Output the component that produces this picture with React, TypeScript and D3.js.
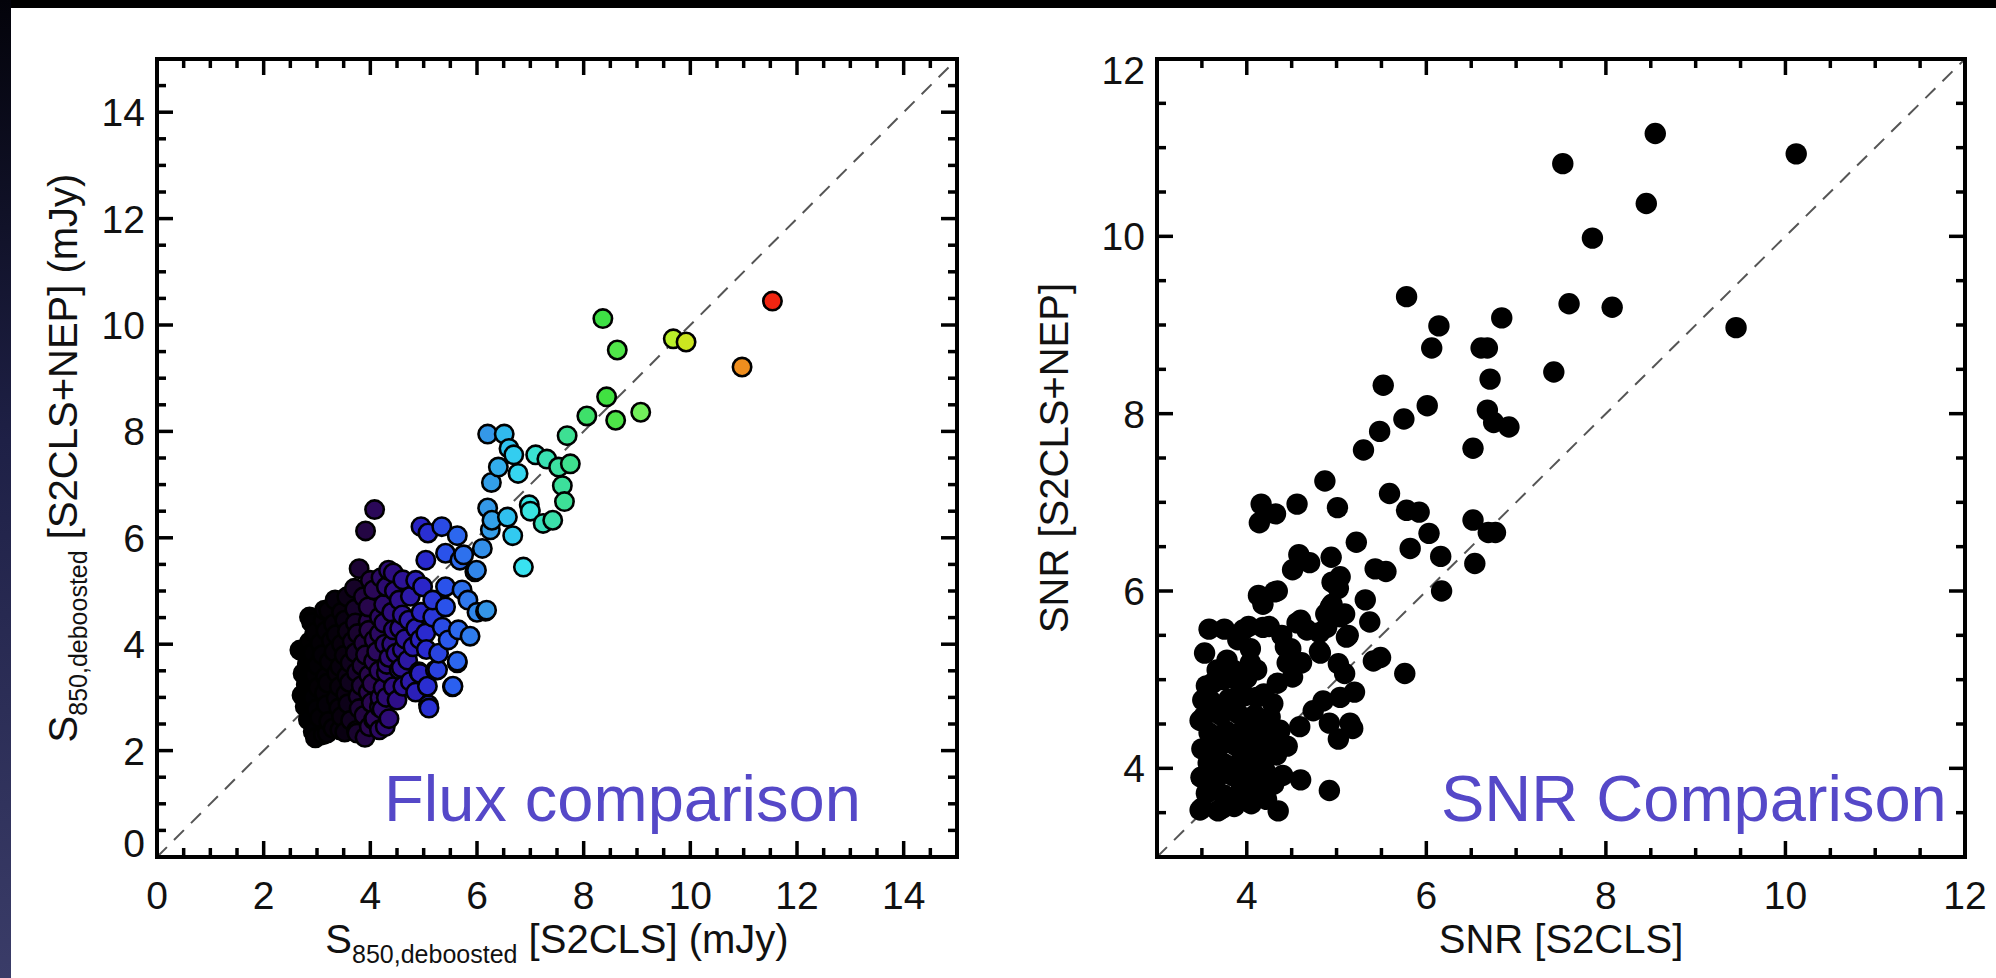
import React from 'react';
import * as d3 from 'd3';

const W = 1996;
const H = 978;

// ---------- axis tick labels ----------
const fluxMajorTicks = [0, 2, 4, 6, 8, 10, 12, 14];
const snrMajorTicks = [4, 6, 8, 10, 12];
const fluxDomain: [number, number] = [0, 15];
const snrDomain: [number, number] = [3, 12];

// ---------- left panel: deboosted flux [S2CLS] vs [S2CLS+NEP] (mJy) ----------
const fluxPoints: [number, number][] = [
  // dense faint-source cluster
  [2.93, 2.36], [3.12, 2.3], [3.3, 2.42], [3.52, 2.35], [3.74, 2.38], [3.98, 2.45],
  [2.84, 2.58], [3.05, 2.62], [3.22, 2.55], [3.46, 2.64], [3.63, 2.57], [3.88, 2.66], [4.08, 2.6],
  [2.78, 2.83], [2.99, 2.78], [3.18, 2.86], [3.41, 2.8], [3.58, 2.88], [3.79, 2.79], [4.02, 2.9], [4.22, 2.78],
  [2.72, 3.04], [2.93, 3.0], [3.14, 3.08], [3.36, 2.98], [3.54, 3.06], [3.77, 3.02], [3.96, 3.1], [4.18, 3.0],
  [2.8, 3.24], [3.02, 3.19], [3.2, 3.27], [3.42, 3.2], [3.61, 3.28], [3.83, 3.22], [4.03, 3.26], [4.24, 3.18],
  [2.74, 3.45], [2.96, 3.42], [3.16, 3.38], [3.37, 3.46], [3.56, 3.4], [3.74, 3.47], [3.97, 3.42], [4.16, 3.5],
  [2.82, 3.63], [3.01, 3.6], [3.23, 3.67], [3.43, 3.58], [3.62, 3.65], [3.84, 3.6], [4.06, 3.68], [4.31, 3.62],
  [2.92, 3.83], [3.1, 3.8], [3.32, 3.86], [3.51, 3.79], [3.72, 3.84], [3.91, 3.8], [4.12, 3.86],
  [2.86, 4.04], [3.06, 4.02], [3.27, 4.07], [3.46, 4.0], [3.66, 4.05], [3.87, 4.02], [4.07, 4.08], [4.27, 4.0],
  [2.96, 4.22], [3.17, 4.25], [3.36, 4.18], [3.57, 4.24], [3.76, 4.2], [3.97, 4.26], [4.17, 4.2],
  [2.9, 4.41], [3.12, 4.44], [3.31, 4.38], [3.52, 4.45], [3.72, 4.4], [3.96, 4.43],
  [3.22, 4.63], [3.46, 4.6], [3.71, 4.66], [3.96, 4.7],
  [2.68, 3.89], [2.86, 4.51], [3.14, 4.64], [3.34, 4.83], [3.56, 4.89], [3.87, 4.89], [4.06, 5.02],
  [2.97, 2.24], [3.19, 2.33], [3.43, 2.39], [3.75, 2.33], [4.06, 2.58], [4.17, 2.39], [4.17, 2.82],
  [3.9, 2.25], [4.28, 2.45], [4.35, 2.6], [4.3, 3.0], [4.5, 2.95], [3.7, 5.05], [4.0, 5.2], [4.2, 5.25],
  // intermediate sources
  [4.25, 4.75], [4.4, 4.6], [4.6, 4.55], [4.75, 4.9], [4.85, 5.2], [4.65, 4.1], [4.55, 4.3], [4.4, 4.0],
  [4.7, 3.7], [4.35, 3.75], [4.6, 3.9], [4.85, 4.3], [4.75, 3.3], [4.25, 4.4], [4.45, 5.0], [4.95, 4.6],
  [5.05, 3.9], [4.85, 3.1],
  [4.3, 3.46], [4.43, 3.2], [4.48, 3.83], [4.43, 4.27], [4.17, 4.51], [4.54, 3.52], [4.61, 3.21], [4.58, 3.56],
  [4.3, 5.08], [4.61, 5.21], [4.43, 5.34], [4.54, 4.83], [4.72, 4.45], [4.8, 3.95], [4.91, 3.48], [4.93, 3.45],
  [4.93, 4.09], [5.04, 4.21], [5.17, 4.51], [5.35, 4.32], [5.46, 4.08], [5.28, 3.83], [5.26, 3.52], [5.22, 3.51],
  [5.07, 3.21], [5.09, 2.86], [5.1, 2.8], [5.54, 3.2], [5.55, 3.21], [5.63, 3.65], [5.63, 3.68], [5.65, 4.27],
  [5.87, 4.15], [6.0, 4.6], [6.16, 4.62], [6.18, 4.64], [5.41, 4.7], [5.17, 4.83], [5.83, 4.83], [5.72, 5.02],
  [5.41, 5.08], [4.98, 5.08], [5.04, 5.58], [5.41, 5.71], [5.68, 5.58], [5.75, 5.68], [5.96, 5.36], [5.99, 5.39],
  [6.1, 5.8], [5.63, 6.04], [5.34, 6.21], [4.95, 6.21], [5.08, 6.09], [4.34, 5.39],
  [3.79, 5.42], [3.91, 6.13], [4.08, 6.53],
  // brighter sources
  [6.2, 7.95], [6.51, 7.95], [6.6, 7.68], [6.69, 7.56], [6.77, 7.21], [6.4, 7.33], [6.27, 7.04],
  [6.2, 6.56], [6.25, 6.15], [6.28, 6.33], [6.57, 6.39], [6.67, 6.04], [6.87, 5.45],
  [6.98, 6.62], [7.0, 6.5], [7.24, 6.27], [7.42, 6.33], [7.1, 7.56], [7.31, 7.48], [7.53, 7.33],
  [7.6, 6.98], [7.64, 6.68], [7.75, 7.39], [7.69, 7.92],
  [8.06, 8.29], [8.6, 8.21], [8.43, 8.65], [9.07, 8.36], [8.63, 9.53], [8.36, 10.12],
  [9.68, 9.74], [9.92, 9.68], [10.97, 9.21], [11.54, 10.45],
];

// colour bar stops (rainbow table) keyed on S2CLS flux
const fluxColorStops = [2.8, 3.5, 4.0, 4.5, 5.0, 5.5, 6.2, 6.6, 6.9, 7.3, 7.8, 8.4, 9.1, 9.8, 11.0, 11.6];
const fluxColors = [
  '#000000', '#08000e', '#2a0750', '#2e0e88', '#2a26cc', '#2a5cf0', '#3498e8', '#30c2f0',
  '#3ae6f0', '#3ae0b4', '#3ee08a', '#3ee040', '#74f05c', '#c8f020', '#f08c1e', '#f01a10',
];

// ---------- right panel: SNR [S2CLS] vs SNR [S2CLS+NEP] ----------
const snrPoints: [number, number][] = [
  // dense low-SNR cluster
  [3.5, 3.55], [3.68, 3.52], [3.86, 3.57], [4.05, 3.6], [4.22, 3.65],
  [3.55, 3.72], [3.74, 3.7], [3.93, 3.75], [4.12, 3.78], [4.3, 3.82],
  [3.49, 3.9], [3.66, 3.88], [3.84, 3.92], [4.02, 3.95], [4.2, 3.98], [4.4, 3.92],
  [3.57, 4.06], [3.75, 4.05], [3.94, 4.1], [4.13, 4.12], [4.33, 4.15],
  [3.5, 4.22], [3.69, 4.24], [3.87, 4.26], [4.05, 4.28], [4.24, 4.3], [4.45, 4.25],
  [3.58, 4.4], [3.77, 4.42], [3.96, 4.44], [4.15, 4.46],
  [3.52, 4.58], [3.71, 4.6], [3.9, 4.62], [4.09, 4.6], [4.26, 4.58],
  [3.6, 4.76], [3.8, 4.78], [3.98, 4.82], [4.19, 4.84],
  [3.55, 4.93], [3.74, 5.0], [4.0, 5.02], [3.86, 5.1],
  [3.48, 3.53], [3.73, 3.55], [3.48, 4.54], [3.51, 4.77], [3.62, 4.96], [3.92, 4.96],
  [3.67, 5.11], [3.78, 5.22], [4.04, 5.19], [4.11, 5.11], [4.11, 4.8], [4.29, 4.73], [4.34, 4.96],
  [4.35, 3.52], [4.6, 3.87], [4.92, 3.75], [4.37, 4.43], [4.59, 4.47],
  // intermediate
  [4.74, 4.65], [4.85, 4.76], [5.2, 4.86], [5.04, 4.8], [5.02, 4.33], [4.92, 4.51], [5.15, 4.51], [5.18, 4.45],
  [4.51, 5.03], [4.45, 5.19], [4.61, 5.19], [4.82, 5.3], [4.81, 5.32], [5.02, 5.18], [5.09, 5.07],
  [5.41, 5.21], [5.49, 5.25], [5.76, 5.07],
  [3.53, 5.3], [3.58, 5.57], [3.75, 5.57], [3.9, 5.45], [3.96, 5.56], [4.02, 5.6], [4.04, 5.35],
  [4.18, 5.59], [4.25, 5.6], [4.39, 5.5], [4.43, 5.37], [4.49, 5.35], [4.56, 5.64], [4.6, 5.67],
  [4.67, 5.56], [4.81, 5.53], [4.89, 5.59], [5.04, 5.71], [5.11, 5.48], [5.13, 5.5],
  [4.88, 5.74], [5.09, 5.74], [4.93, 5.82], [4.95, 5.85], [5.37, 5.65], [5.32, 5.9],
  [4.13, 5.95], [4.18, 5.85], [4.31, 5.99], [4.34, 6.0], [4.95, 6.1], [5.02, 6.03], [5.04, 6.16],
  [4.51, 6.24], [4.58, 6.41], [4.7, 6.32], [4.94, 6.38], [5.22, 6.55], [5.43, 6.25], [5.55, 6.22],
  [5.82, 6.48], [6.03, 6.65], [6.16, 6.39], [6.17, 6.0], [6.54, 6.31],
  [4.14, 6.77], [4.16, 6.98], [4.32, 6.87], [4.56, 6.98], [5.01, 6.94], [4.87, 7.24],
  [5.59, 7.1], [5.78, 6.91], [5.92, 6.89], [6.52, 6.8], [6.69, 6.66], [6.77, 6.66],
  // bright
  [5.3, 7.59], [5.48, 7.8], [5.75, 7.94], [6.01, 8.09], [5.52, 8.32], [6.52, 7.61],
  [6.68, 8.04], [6.75, 7.9], [6.92, 7.85], [6.71, 8.39], [6.61, 8.74], [6.68, 8.74],
  [6.06, 8.74], [6.14, 8.99], [5.78, 9.32], [6.84, 9.08], [7.42, 8.47],
  [7.59, 9.24], [8.07, 9.2], [9.45, 8.97], [7.85, 9.98], [8.45, 10.37],
  [7.52, 10.82], [8.55, 11.16], [10.12, 10.93],
];

// ---------- panel layout ----------
const leftPanel = { x0: 157, x1: 957, y0: 857, y1: 59 };
const rightPanel = { x0: 1157, x1: 1965, y0: 857, y1: 59 };

const FONT = "'Liberation Sans', Arial, Helvetica, sans-serif";

type PanelProps = {
  box: { x0: number; x1: number; y0: number; y1: number };
  domain: [number, number];
  majors: number[];
};

function Frame({ box, domain, majors }: PanelProps) {
  const x = d3.scaleLinear().domain(domain).range([box.x0, box.x1]);
  const y = d3.scaleLinear().domain(domain).range([box.y0, box.y1]);
  const minors = d3.range(domain[0] + 0.5, domain[1], 0.5);
  const isMajor = (v: number) => majors.includes(v);
  const MAJ = 16;
  const MIN = 9;
  const ticks: JSX.Element[] = [];
  minors.forEach((v, i) => {
    const L = isMajor(v) ? MAJ : MIN;
    const xv = x(v);
    const yv = y(v);
    ticks.push(<line key={'b' + i} x1={xv} x2={xv} y1={box.y0} y2={box.y0 - L} />);
    ticks.push(<line key={'t' + i} x1={xv} x2={xv} y1={box.y1} y2={box.y1 + L} />);
    ticks.push(<line key={'l' + i} x1={box.x0} x2={box.x0 + L} y1={yv} y2={yv} />);
    ticks.push(<line key={'r' + i} x1={box.x1} x2={box.x1 - L} y1={yv} y2={yv} />);
  });
  return (
    <g>
      <line
        x1={x(domain[0])}
        y1={y(domain[0])}
        x2={x(domain[1])}
        y2={y(domain[1])}
        stroke="#555"
        strokeWidth={2}
        strokeDasharray="14 10"
      />
      <g stroke="#000" strokeWidth={3.5}>{ticks}</g>
      <rect
        x={box.x0}
        y={box.y1}
        width={box.x1 - box.x0}
        height={box.y0 - box.y1}
        fill="none"
        stroke="#000"
        strokeWidth={4}
      />
      <g fontFamily={FONT} fontSize={39} fill="#111">
        {majors.map((v) => (
          <text key={'xl' + v} x={x(v)} y={909} textAnchor="middle">
            {v}
          </text>
        ))}
        {majors.map((v) => {
          let cy = y(v);
          if (v === domain[0]) cy -= 14;
          if (v === domain[1]) cy += 11;
          return (
            <text key={'yl' + v} x={box.x0 - 12} y={cy} dy="0.36em" textAnchor="end">
              {v}
            </text>
          );
        })}
      </g>
    </g>
  );
}

export default function App() {
  const lx = d3.scaleLinear().domain(fluxDomain).range([leftPanel.x0, leftPanel.x1]);
  const ly = d3.scaleLinear().domain(fluxDomain).range([leftPanel.y0, leftPanel.y1]);
  const rx = d3.scaleLinear().domain(snrDomain).range([rightPanel.x0, rightPanel.x1]);
  const ry = d3.scaleLinear().domain(snrDomain).range([rightPanel.y0, rightPanel.y1]);
  const color = d3
    .scaleLinear<string>()
    .domain(fluxColorStops)
    .range(fluxColors)
    .interpolate(d3.interpolateRgb)
    .clamp(true);

  const fluxSorted = [...fluxPoints].sort((a, b) => a[0] - b[0]);

  const lcx = (leftPanel.x0 + leftPanel.x1) / 2;
  const lcy = (leftPanel.y0 + leftPanel.y1) / 2;
  const rcx = (rightPanel.x0 + rightPanel.x1) / 2;

  return (
    <svg
      width={W}
      height={H}
      viewBox={`0 0 ${W} ${H}`}
      style={{ position: 'absolute', left: 0, top: 0, display: 'block' }}
    >
      <defs>
        <linearGradient id="strip" x1="0" y1="0" x2="0" y2="1">
          <stop offset="0" stopColor="#03030a" />
          <stop offset="0.45" stopColor="#1e2046" />
          <stop offset="1" stopColor="#3a3c68" />
        </linearGradient>
      </defs>
      <rect x={0} y={0} width={W} height={H} fill="#000" />
      <rect x={0} y={0} width={11} height={H} fill="url(#strip)" />
      <rect x={11} y={8} width={W - 11} height={H - 8} fill="#fff" />

      <Frame box={leftPanel} domain={fluxDomain} majors={fluxMajorTicks} />
      <Frame box={rightPanel} domain={snrDomain} majors={snrMajorTicks} />

      {/* left scatter, coloured by S2CLS flux */}
      <g stroke="#000" strokeWidth={2.6}>
        {fluxSorted.map((p, i) => (
          <circle key={'f' + i} cx={lx(p[0])} cy={ly(p[1])} r={9.2} fill={color(p[0])} />
        ))}
      </g>

      {/* right scatter */}
      <g fill="#000">
        {snrPoints.map((p, i) => (
          <circle key={'s' + i} cx={rx(p[0])} cy={ry(p[1])} r={10.7} />
        ))}
      </g>

      {/* axis titles */}
      <g fontFamily={FONT} fontSize={40} fill="#111">
        <text x={lcx} y={953} textAnchor="middle">
          <tspan>S</tspan>
          <tspan fontSize={25} dy={10}>850,deboosted</tspan>
          <tspan dy={-10}> [S2CLS] (mJy)</tspan>
        </text>
        <text transform={`translate(77,${lcy}) rotate(-90)`} textAnchor="middle">
          <tspan>S</tspan>
          <tspan fontSize={25} dy={10}>850,deboosted</tspan>
          <tspan dy={-10}> [S2CLS+NEP] (mJy)</tspan>
        </text>
        <text x={rcx} y={953} textAnchor="middle">SNR [S2CLS]</text>
        <text transform={`translate(1068,${lcy}) rotate(-90)`} textAnchor="middle">
          SNR [S2CLS+NEP]
        </text>
      </g>

      {/* slide annotations */}
      <g fontFamily={FONT} fontSize={65} fill="#5548c8">
        <text x={384} y={821}>Flux comparison</text>
        <text x={1441} y={821}>SNR Comparison</text>
      </g>
    </svg>
  );
}
